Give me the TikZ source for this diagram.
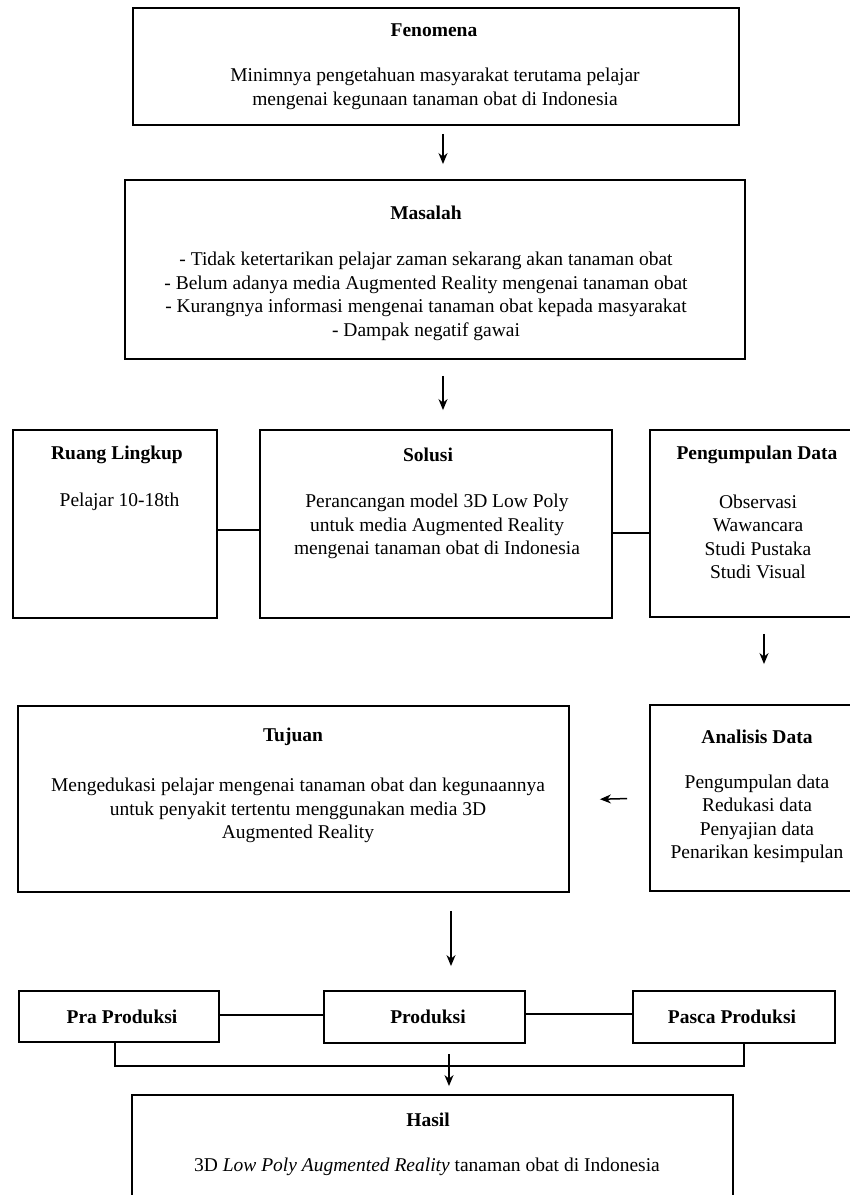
\documentclass[tikz,border=0pt]{standalone}
\usepackage{fontspec}
\setmainfont{Liberation Serif}
\usetikzlibrary{arrows.meta}
\tikzset{
  box/.style={draw, line width=1.9pt, inner sep=0pt, minimum width=#1},
  txt/.style={align=center, inner sep=0pt, font=\fontsize{19.5}{23.5}\selectfont},
  ttl/.style={inner sep=0pt, font=\fontsize{19.5}{23.5}\selectfont\bfseries},
  link/.style={line width=2.2pt},
  arr/.style={line width=1.5pt, -{Stealth[length=11pt,width=9pt]}}
}
\begin{document}
\begin{tikzpicture}[x=1pt,y=-1pt]
\useasboundingbox (0,0) rectangle (850,1195);
% boxes
\node[box=606pt, minimum height=117pt] (fen) at (436,66.5) {};
\node[box=620pt, minimum height=179pt] (mas) at (435,269.5) {};
\node[box=204pt, minimum height=188pt] (ruang) at (115,524) {};
\node[box=352pt, minimum height=188pt] (sol) at (436,524) {};
\node[box=215pt, minimum height=187pt] (peng) at (757.5,523.5) {};
\node[box=551pt, minimum height=186pt] (tuj) at (293.5,799) {};
\node[box=215pt, minimum height=186pt] (ana) at (757.5,798) {};
\node[box=200pt, minimum height=51pt] (pra) at (119,1016.5) {};
\node[box=201pt, minimum height=52pt] (prod) at (424.5,1017) {};
\node[box=202pt, minimum height=52pt] (pasca) at (734,1017) {};
\node[box=601pt, minimum height=130pt] (hasil) at (432.5,1160) {};
% texts
\node[ttl] (fenT) at (434,30) {Fenomena};
\node[txt] (fenB) at (435,89) {Minimnya pengetahuan masyarakat terutama pelajar\\mengenai kegunaan tanaman obat di Indonesia};
\node[ttl] (masT) at (426,213) {Masalah};
\node[txt] (masB) at (426,296.5) {- Tidak ketertarikan pelajar zaman sekarang akan tanaman obat\\- Belum adanya media Augmented Reality mengenai tanaman obat\\- Kurangnya informasi mengenai tanaman obat kepada masyarakat\\- Dampak negatif gawai};
\node[ttl] (ruangT) at (117,455) {Ruang Lingkup};
\node[txt] (ruangB) at (119.5,502) {Pelajar 10-18th};
\node[ttl] (solT) at (428,455) {Solusi};
\node[txt] (solB) at (437,526.5) {Perancangan model 3D Low Poly\\untuk media Augmented Reality\\mengenai tanaman obat di Indonesia};
\node[ttl] (pengT) at (757,455) {Pengumpulan Data};
\node[txt] (pengB) at (758,537) {Observasi\\Wawancara\\Studi Pustaka\\Studi Visual};
\node[ttl] (tujT) at (293,737) {Tujuan};
\node[txt] (tujB) at (298,810.5) {Mengedukasi pelajar mengenai tanaman obat dan kegunaannya\\untuk penyakit tertentu menggunakan media 3D\\Augmented Reality};
\node[ttl] (anaT) at (757,737) {Analisis Data};
\node[txt] (anaB) at (757,819) {Pengumpulan data\\Redukasi data\\Penyajian data\\Penarikan kesimpulan};
\node[ttl] (praT) at (122,1017) {Pra Produksi};
\node[ttl] (prodT) at (428,1017) {Produksi};
\node[ttl] (pascaT) at (732,1017) {Pasca Produksi};
\node[ttl] (hasilT) at (428,1120) {Hasil};
\node[txt] (hasilB) at (427,1167) {3D \textit{Low Poly Augmented Reality} tanaman obat di Indonesia};
% connectors
\draw[arr, shorten <=8pt, shorten >=15pt] ([xshift=7pt]fen.south) -- ([xshift=8pt]mas.north);
\draw[arr, shorten <=16pt, shorten >=19pt] ([xshift=8pt]mas.south) -- ([xshift=7pt]sol.north);
\draw[link] ([yshift=-6pt]ruang.east) -- ([yshift=-6pt]sol.west);
\draw[link] ([yshift=-9pt]sol.east) -- ([yshift=-9.5pt]peng.west);
\draw[arr, shorten <=16pt, shorten >=40pt] ([xshift=6.5pt]peng.south) -- ([xshift=6.5pt]ana.north);
\draw[arr, shorten <=22pt, shorten >=30pt] (ana.west) -- ([yshift=-1pt]tuj.east);
\draw[arr, shorten <=18pt, shorten >=24pt] ([xshift=157.5pt]tuj.south) -- ([xshift=26.5pt]prod.north);
\draw[link] ([yshift=1.5pt]pra.east) -- ([yshift=2pt]prod.west);
\draw[link] ([yshift=3pt]prod.east) -- ([yshift=3pt]pasca.west);
\coordinate (br) at (449,1066);
\coordinate (brA) at (449,1054);
\draw[link] ([xshift=-4pt]pra.south) |- (br) -| ([xshift=10pt]pasca.south);
\draw[arr, shorten >=8pt] (brA) -- ([xshift=16.5pt]hasil.north);
\end{tikzpicture}
\end{document}
